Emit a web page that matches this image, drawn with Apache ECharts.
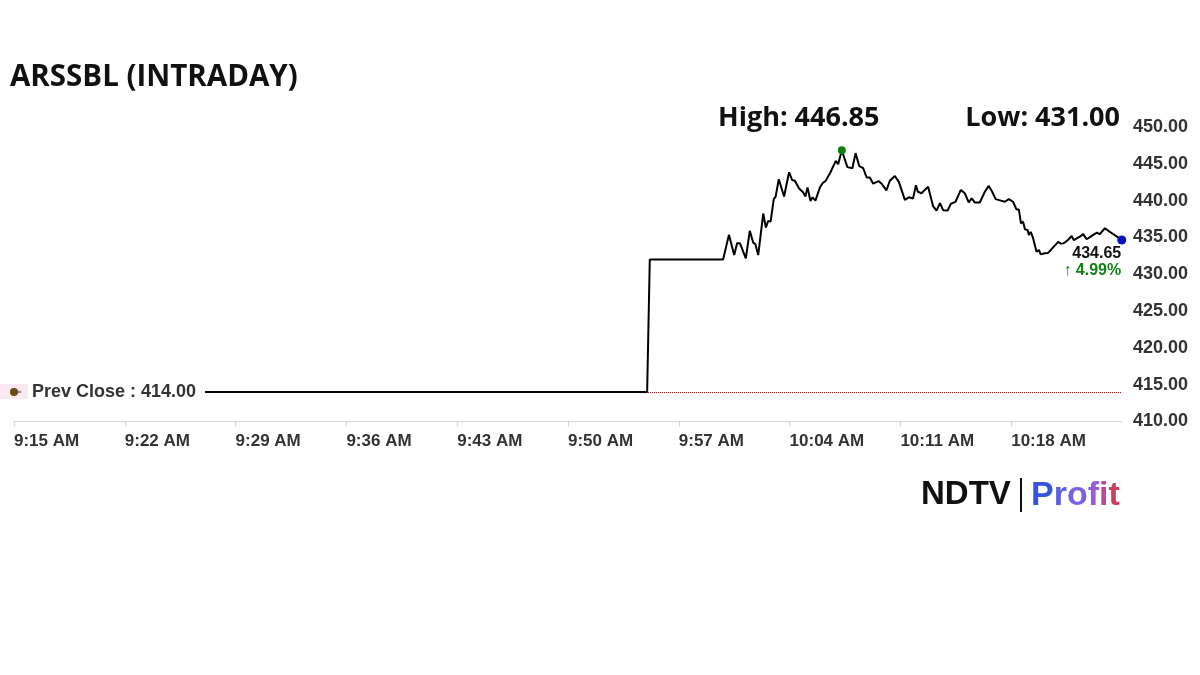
<!DOCTYPE html>
<html>
<head>
<meta charset="utf-8">
<style>
html,body{margin:0;padding:0;background:#fff;}
#chart{width:1200px;height:675px;}
</style>
<script src="https://cdn.jsdelivr.net/npm/echarts@6/dist/echarts.min.js"></script>
</head>
<body>
<div id="chart"></div>
<script>
const chartTitle = 'ARSSBL (INTRADAY)';
const prevClose = 414.00;
const dayHigh = 446.85;
const dayLow = 431.00;
const sessionStart = '09:15:00';
const yTicks = { min: 410, max: 450, step: 5 };
const xTicks = { min: 0, max: 70, step: 7 };

const times = [
'09:15:00','09:55:00','09:55:10','09:59:48','10:00:10','10:00:30','10:00:41','10:00:52','10:01:14','10:01:29',
'10:01:42','10:01:50','10:02:01','10:02:20','10:02:30','10:02:39','10:02:48','10:03:00','10:03:07','10:03:19',
'10:03:39','10:03:58','10:04:10','10:04:20','10:04:36','10:04:51','10:05:00','10:05:08','10:05:19','10:05:27',
'10:05:38','10:05:55','10:06:05','10:06:17','10:06:35','10:06:55','10:07:04','10:07:18','10:07:39','10:07:58',
'10:08:10','10:08:24','10:08:39','10:08:52','10:09:04','10:09:17','10:09:37','10:09:50','10:10:07','10:10:20',
'10:10:39','10:10:54','10:11:17','10:11:32','10:11:48','10:11:59','10:12:06','10:12:20','10:12:45','10:13:04',
'10:13:17','10:13:30','10:13:42','10:13:59','10:14:11','10:14:29','10:14:49','10:15:04','10:15:19','10:15:30',
'10:15:42','10:16:01','10:16:20','10:16:35','10:16:48','10:17:01','10:17:21','10:17:36','10:17:51','10:18:07',
'10:18:20','10:18:29','10:18:37','10:18:45','10:18:52','10:19:02','10:19:07','10:19:14','10:19:23','10:19:36',
'10:19:45','10:19:52','10:20:07','10:20:20','10:20:39','10:20:58','10:21:11','10:21:23','10:21:35','10:21:49',
'10:21:57','10:22:20','10:22:33','10:22:46','10:23:11','10:23:25','10:23:36','10:23:55','10:24:14','10:24:29',
'10:24:45','10:24:59'
];
const prices = [
414.00,414.00,432.00,432.00,435.35,432.60,434.20,434.20,432.15,435.90,
434.30,434.10,432.60,438.25,436.35,437.25,437.15,440.20,440.55,442.90,
440.55,443.85,442.80,442.70,441.65,441.15,440.55,441.80,439.95,440.45,
440.00,441.80,442.35,442.70,443.85,445.40,444.95,446.85,444.55,444.40,
446.45,444.70,444.40,443.15,443.15,442.30,442.65,442.25,441.40,442.70,
443.35,442.55,440.10,440.45,440.30,442.10,441.20,441.00,441.90,439.25,
438.65,439.65,438.70,438.65,439.55,439.85,441.45,441.00,439.75,440.30,
439.75,439.75,441.20,442.00,441.20,440.20,440.00,439.85,440.20,439.85,
438.80,438.80,436.90,437.15,436.10,436.00,435.35,435.75,434.90,433.05,
433.30,432.70,432.85,432.90,433.65,434.40,434.10,434.30,434.65,435.20,
434.65,435.10,435.45,434.75,435.35,435.65,435.45,436.25,435.75,435.40,
435.00,434.65
];

function toMin(t){ const p=t.split(':').map(Number); return p[0]*60+p[1]+(p[2]||0)/60; }
const t0 = toMin(sessionStart);
const lineData = times.map((t,i)=>[toMin(t)-t0, prices[i]]);
function fmtTime(v){
  const tot = Math.round(t0+v); let h=Math.floor(tot/60); const m=tot%60;
  const ap = h>=12?'PM':'AM'; if(h>12)h-=12;
  return h+':'+String(m).padStart(2,'0')+' '+ap;
}
let hiIdx=0; prices.forEach((p,i)=>{ if(p>prices[hiIdx]) hiIdx=i; });
const lastIdx = prices.length-1;
const lastPrice = prices[lastIdx];
const chg = (lastPrice-prevClose)/prevClose*100;

const chart = echarts.init(document.getElementById('chart'));
const axisFont = 'Liberation Sans, Arial, sans-serif';
const profitColors = ['#3552e0','#5a5ee2','#7b62de','#9a5ad2','#b84a9a','#c8405e'];
const profitRich = {};
profitColors.forEach((c,i)=>{ profitRich['c'+i] = {fill:c, font:'bold 34px "Liberation Sans", Arial, sans-serif'}; });
const profitText = 'Profit'.split('').map((ch,i)=>'{c'+i+'|'+ch+'}').join('');

chart.setOption({
  animation:false,
  grid:{left:14,right:78,top:127,bottom:253.5},
  xAxis:{type:'value',min:xTicks.min,max:xTicks.max,interval:xTicks.step,
    axisLine:{lineStyle:{color:'#d6d6d6',width:1}},
    axisTick:{show:true,length:5,lineStyle:{color:'#d6d6d6'}},
    splitLine:{show:false},
    axisLabel:{formatter:fmtTime,align:'left',showMaxLabel:false,margin:11,
      fontSize:17,fontWeight:'bold',color:'#333',fontFamily:axisFont}},
  yAxis:{type:'value',position:'right',min:yTicks.min,max:yTicks.max,interval:yTicks.step,
    axisLine:{show:false},axisTick:{show:false},splitLine:{show:false},
    axisLabel:{formatter:v=>v.toFixed(2),margin:11,fontSize:18,fontWeight:'bold',color:'#333',fontFamily:axisFont}},
  series:[
    {type:'line',data:lineData,showSymbol:false,z:3,
     lineStyle:{color:'#000',width:2},
     markLine:{silent:true,symbol:'none',label:{show:false},z:1,
       lineStyle:{color:'#a01010',type:'dotted',width:1},
       data:[{yAxis:prevClose}]}},
    {type:'scatter',data:[[xTicks.min,prevClose]],symbolSize:0,z:4,silent:true,
     itemStyle:{opacity:1},
     label:{show:true,position:'right',distance:2,formatter:'-  Prev Close : '+prevClose.toFixed(2),
       fontSize:18,fontWeight:'bold',color:'#333',fontFamily:axisFont,
       backgroundColor:'#fff',padding:[2,9,2,0]}},
    {type:'scatter',data:[[xTicks.min,prevClose]],symbolSize:8,z:6,silent:true,
     itemStyle:{color:'#6b4a12',opacity:1}},
    {type:'scatter',data:[lineData[hiIdx]],symbolSize:8,z:6,silent:true,itemStyle:{color:'#0f7f0f',opacity:1}},
    {type:'scatter',data:[lineData[lastIdx]],symbolSize:9,z:6,silent:true,itemStyle:{color:'#0a10c0',opacity:1},
     label:{show:true,position:[4,9],align:'right',verticalAlign:'top',
       formatter:'{a|'+lastPrice.toFixed(2)+'}\n{b|\u2191 '+chg.toFixed(2)+'%}',
       backgroundColor:'#fff',padding:[1,0,0,3],
       rich:{a:{fontSize:16,fontWeight:'bold',color:'#111',fontFamily:axisFont,lineHeight:17,align:'right'},
             b:{fontSize:16,fontWeight:'bold',color:'#128012',fontFamily:axisFont,lineHeight:17,align:'right'}}}}
  ],
  graphic:[
    {type:'rect',z:5,silent:true,shape:{x:0,y:384,width:28,height:15},style:{fill:'rgba(248,215,232,0.55)'}},
    {type:'text',left:10,top:63,style:{text:chartTitle,font:'bold 29.5px "Open Sans", sans-serif',fill:'#111'}},
    {type:'text',x:718,y:118,style:{text:'High: '+dayHigh.toFixed(2),font:'bold 27px "Open Sans", sans-serif',fill:'#111',verticalAlign:'middle',align:'left'}},
    {type:'text',x:1120,y:118,style:{text:'Low: '+dayLow.toFixed(2),font:'bold 27px "Open Sans", sans-serif',fill:'#111',verticalAlign:'middle',align:'right'}},
    {type:'text',x:921,y:495,style:{text:'NDTV',font:'900 33px "Liberation Sans", Arial, sans-serif',fill:'#111',verticalAlign:'middle',align:'left'}},
    {type:'rect',shape:{x:1020,y:478,width:2,height:34},style:{fill:'#111'}},
    {type:'text',x:1031,y:496,style:{text:profitText,rich:profitRich,verticalAlign:'middle',align:'left'}}
  ]
});
</script>
</body>
</html>
